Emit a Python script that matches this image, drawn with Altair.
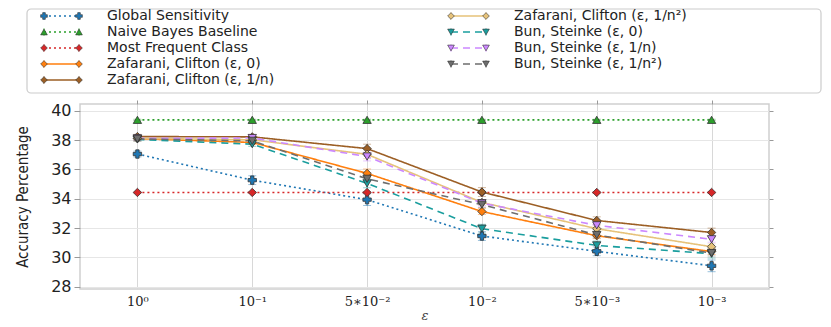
import altair as alt
import pandas as pd

eps_labels = ["10⁰", "10⁻¹", "5∗10⁻²", "10⁻²", "5∗10⁻³", "10⁻³"]

series_names = [
    "Global Sensitivity",
    "Naive Bayes Baseline",
    "Most Frequent Class",
    "Zafarani, Clifton (ε, 0)",
    "Zafarani, Clifton (ε, 1/n)",
    "Zafarani, Clifton (ε, 1/n²)",
    "Bun, Steinke (ε, 0)",
    "Bun, Steinke (ε, 1/n)",
    "Bun, Steinke (ε, 1/n²)",
]

gs_vals = [37.05, 35.27, 33.94, 31.46, 30.42, 29.43]
nb_vals = [39.38, 39.38, 39.38, 39.38, 39.38, 39.38]
mfc_vals = [34.43, 34.43, 34.43, 34.43, 34.43, 34.43]
zc0_vals = [38.10, 37.84, 35.73, 33.13, 31.48, 30.40]
zc1n_vals = [38.24, 38.22, 37.42, 34.46, 32.52, 31.70]
zc1n2_vals = [38.12, 38.02, 37.03, 33.75, 31.96, 30.73]
bun0_vals = [38.05, 37.72, 35.05, 31.96, 30.82, 30.26]
bun1n_vals = [38.12, 38.14, 36.88, 33.70, 32.19, 31.24]
bun1n2_vals = [38.08, 37.95, 35.36, 33.60, 31.53, 30.30]

gs_err = [0.20, 0.30, 0.40, 0.30, 0.30, 0.40]
nb_err = [0.04, 0.04, 0.04, 0.04, 0.04, 0.04]
mfc_err = [0.04, 0.04, 0.04, 0.04, 0.04, 0.04]
zc0_err = [0.15, 0.15, 0.30, 0.20, 0.20, 0.20]
zc1n_err = [0.15, 0.15, 0.30, 0.30, 0.25, 0.30]
zc1n2_err = [0.15, 0.15, 0.30, 0.20, 0.20, 0.20]
bun0_err = [0.10, 0.15, 0.30, 0.30, 0.30, 0.30]
bun1n_err = [0.15, 0.15, 0.30, 0.20, 0.20, 0.20]
bun1n2_err = [0.15, 0.15, 0.20, 0.20, 0.20, 0.20]

all_vals = [gs_vals, nb_vals, mfc_vals, zc0_vals, zc1n_vals, zc1n2_vals,
            bun0_vals, bun1n_vals, bun1n2_vals]
all_errs = [gs_err, nb_err, mfc_err, zc0_err, zc1n_err, zc1n2_err,
            bun0_err, bun1n_err, bun1n2_err]

colors = ["#1f77b4", "#2ca02c", "#d62728", "#ff7f0e", "#9c5f25", "#e6c27a",
          "#1a9e9e", "#cc88ff", "#6e6e6e"]
shapes = ["cross", "triangle-up", "diamond", "diamond", "diamond", "diamond",
          "triangle-down", "triangle-down", "triangle-down"]
dashes = [[2, 3], [2, 3], [2, 3], [1, 0], [1, 0], [1, 0], [7, 5], [7, 5], [7, 5]]
y_ticks = [28, 30, 32, 34, 36, 38, 40]

rows = []
for name, vals, errs in zip(series_names, all_vals, all_errs):
    for e, v, er in zip(eps_labels, vals, errs):
        rows.append({"series": name, "eps": e, "acc": v,
                     "lo": v - er, "hi": v + er})
df = pd.DataFrame(rows)

color_scale = alt.Scale(domain=series_names, range=colors)
shape_scale = alt.Scale(domain=series_names, range=shapes)
dash_scale = alt.Scale(domain=series_names, range=dashes)
x_scale = alt.Scale(type="point", padding=0.5)
y_scale = alt.Scale(domain=[27.85, 40.46], nice=False, zero=False)

x_axis = alt.Axis(title="ε", labelAngle=0, labelFont="DejaVu Serif",
                  labelFontSize=13, labelColor="#222",
                  titleFont="DejaVu Serif", titleFontSize=13,
                  titleFontWeight="normal", titleFontStyle="italic",
                  titleColor="#444", titlePadding=1, labelPadding=6,
                  grid=True, gridColor="#d8d8d8", domain=False, ticks=False)
x_top = alt.Axis(orient="top", title=None, labels=False, grid=False, domain=False,
                 tickColor="#999", tickSize=4)
y_axis = alt.Axis(title="Accuracy Percentage", values=y_ticks,
                  labelFont="DejaVu Sans", labelFontSize=16, labelColor="#222",
                  labelOverlap=False, labelPadding=3,
                  titleFont="DejaVu Sans Condensed", titleFontSize=15,
                  titleFontWeight="normal", titleColor="#222", titlePadding=20,
                  grid=True, gridColor="#e6e6e6", domain=False,
                  tickColor="#999", tickSize=6)
y_right = alt.Axis(orient="right", title=None, values=y_ticks, labels=False,
                   grid=False, domain=False, tickColor="#999", tickSize=4)


def xe(axis=None):
    return alt.X("eps:N", sort=eps_labels, scale=x_scale, axis=axis)


def yq(field, axis=None):
    return alt.Y(field, type="quantitative", scale=y_scale, axis=axis)


base = alt.Chart(df)
col_enc = alt.Color("series:N", scale=color_scale, legend=None)

err_rule = base.mark_rule(strokeWidth=2, opacity=0.45).encode(
    x=xe(x_axis), y=yq("lo", y_axis), y2="hi:Q", color=col_enc)
cap_lo = base.mark_tick(orient="horizontal", size=8, thickness=1, opacity=0.45).encode(
    x=xe(), y=yq("lo"), color=col_enc)
cap_hi = base.mark_tick(orient="horizontal", size=8, thickness=1, opacity=0.45).encode(
    x=xe(), y=yq("hi"), color=col_enc)
lines = base.mark_line(strokeWidth=1.6).encode(
    x=xe(), y=yq("acc"), color=col_enc,
    strokeDash=alt.StrokeDash("series:N", scale=dash_scale, legend=None),
    detail="series:N",
)
points = base.mark_point(filled=True, size=70, opacity=1, stroke="#333",
                         strokeWidth=0.8).encode(
    x=xe(x_top), y=yq("acc", y_right),
    fill=alt.Fill("series:N", scale=color_scale, legend=None),
    shape=alt.Shape("series:N", scale=shape_scale, legend=None),
)

PW, PH = 689, 185
main = alt.layer(err_rule, cap_lo, cap_hi, lines, points).resolve_axis(
    x="independent", y="independent"
).properties(
    width=PW, height=PH,
    view=alt.ViewBackground(stroke="#cfcfcf", strokeWidth=1.5, fill="white"),
)

# custom legend (positions in pixels relative to the plot's left edge)
LH = 84
leg_rows = []
for i, name in enumerate(series_names):
    col = i // 5
    row = i % 5
    x0 = -36 + col * 407
    leg_rows.append({"series": name, "x0": x0, "x1": x0 + 35, "xt": x0 + 63,
                     "ry": 7 + row * 16})
leg = pd.DataFrame(leg_rows)
box = pd.DataFrame([{"bx0": -53, "bx1": 741, "by0": 0, "by1": LH}])
lx = alt.Scale(domain=[0, PW])
ly = alt.Scale(domain=[0, LH], reverse=True)

l_box = alt.Chart(box).mark_rect(fill="white", stroke="#cccccc", strokeWidth=1.2,
                                 cornerRadius=4).encode(
    x=alt.X("bx0:Q", scale=lx, axis=None), x2="bx1:Q",
    y=alt.Y("by0:Q", scale=ly, axis=None), y2="by1:Q",
)
lbase = alt.Chart(leg)
l_rule = lbase.mark_rule(strokeWidth=1.6).encode(
    x=alt.X("x0:Q", scale=lx, axis=None), x2="x1:Q",
    y=alt.Y("ry:Q", scale=ly, axis=None),
    color=col_enc,
    strokeDash=alt.StrokeDash("series:N", scale=dash_scale, legend=None),
)
l_fold = lbase.transform_fold(["x0", "x1"], as_=["end", "px"])
l_err = l_fold.transform_calculate(elo="datum.ry - 4", ehi="datum.ry + 4").mark_rule(
    strokeWidth=1.5, opacity=0.4).encode(
    x=alt.X("px:Q", scale=lx, axis=None),
    y=alt.Y("elo:Q", scale=ly, axis=None), y2="ehi:Q",
    color=col_enc,
)
l_pts = l_fold.mark_point(
    filled=True, size=45, stroke="#333", strokeWidth=0.6, opacity=1).encode(
    x=alt.X("px:Q", scale=lx, axis=None),
    y=alt.Y("ry:Q", scale=ly, axis=None),
    fill=alt.Fill("series:N", scale=color_scale, legend=None),
    shape=alt.Shape("series:N", scale=shape_scale, legend=None),
)
l_txt = lbase.mark_text(align="left", baseline="middle", font="DejaVu Sans",
                        fontSize=14, color="#222").encode(
    x=alt.X("xt:Q", scale=lx, axis=None),
    y=alt.Y("ry:Q", scale=ly, axis=None),
    text="series:N",
)
legend = alt.layer(l_box, l_rule, l_err, l_pts, l_txt).properties(
    width=PW, height=LH,
    view=alt.ViewBackground(strokeOpacity=0, fillOpacity=0),
)

chart = alt.vconcat(legend, main, spacing=11, bounds="flush").properties(
    padding={"left": 6, "top": 0, "right": 0, "bottom": 0}
).resolve_scale(color="shared", shape="shared", strokeDash="shared", fill="shared"
).configure_axisY(labelOverlap=False)

chart.save("out.html", embed_options={"renderer": "svg", "actions": False})
